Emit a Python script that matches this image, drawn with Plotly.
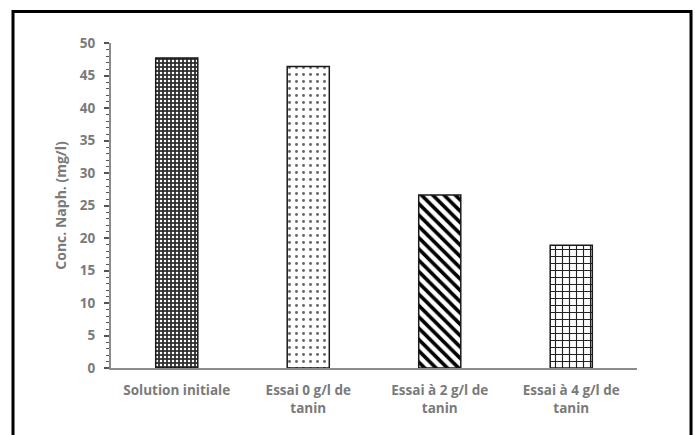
import plotly.graph_objects as go

categories = ["Solution initiale", "Essai 0 g/l de<br>tanin", "Essai à 2 g/l de<br>tanin", "Essai à 4 g/l de<br>tanin"]
values = [47.7, 46.4, 26.6, 18.9]
y_ticks = [0, 5, 10, 15, 20, 25, 30, 35, 40, 45, 50]

patterns = [
    dict(shape=".", bgcolor="#2e2e2e", fgcolor="#ffffff", size=4, solidity=0.3, fillmode="replace"),
    dict(shape=".", bgcolor="#ffffff", fgcolor="#666666", size=7, solidity=0.14, fillmode="replace"),
    dict(shape="\\", bgcolor="#ffffff", fgcolor="#000000", size=8, solidity=0.45, fillmode="replace"),
    dict(shape="+", bgcolor="#ffffff", fgcolor="#222222", size=7, solidity=0.3, fillmode="replace"),
]

fig = go.Figure()
for c, v, p in zip(categories, values, patterns):
    fig.add_trace(go.Bar(
        x=[c], y=[v], width=0.32,
        marker=dict(color="white", pattern=p, line=dict(color="#1a1a1a", width=1.5)),
        showlegend=False,
    ))

font = "Open Sans, Noto Sans, DejaVu Sans"
fig.update_layout(
    width=695, height=435,
    margin=dict(l=111, r=58, t=43, b=67),
    paper_bgcolor="white", plot_bgcolor="white",
    barmode="overlay",
    font=dict(family=font, color="#808080", size=12),
    xaxis=dict(
        categoryorder="array", categoryarray=categories,
        showline=True, linecolor="#8c8c8c", linewidth=2,
        ticks="", showgrid=False, zeroline=False,
        tickfont=dict(size=13.5, color="#7a7a7a", family=font, weight="bold"),
        ticklabelstandoff=9,
    ),
    yaxis=dict(
        range=[0, 50], tickvals=y_ticks,
        showline=True, linecolor="#8c8c8c", linewidth=2,
        ticks="outside", ticklen=5, tickwidth=1.5, tickcolor="#555555",
        minor=dict(dtick=1, ticks="outside", ticklen=3, tickwidth=1, tickcolor="#555555", showgrid=False),
        showgrid=False, zeroline=False,
        tickfont=dict(size=13.5, color="#7a7a7a", family=font, weight="bold"),
        ticklabelstandoff=6,
        title=dict(text="Conc. Naph. (mg/l)", standoff=10,
                   font=dict(size=14, color="#7a7a7a", family=font, weight="bold")),
    ),
    shapes=[dict(type="rect", xref="paper", yref="paper",
                 x0=-0.1863, x1=1.1027, y0=-0.25, y1=1.097,
                 line=dict(color="black", width=3), fillcolor="rgba(0,0,0,0)", layer="above")],
)

fig.write_html("out.html")
